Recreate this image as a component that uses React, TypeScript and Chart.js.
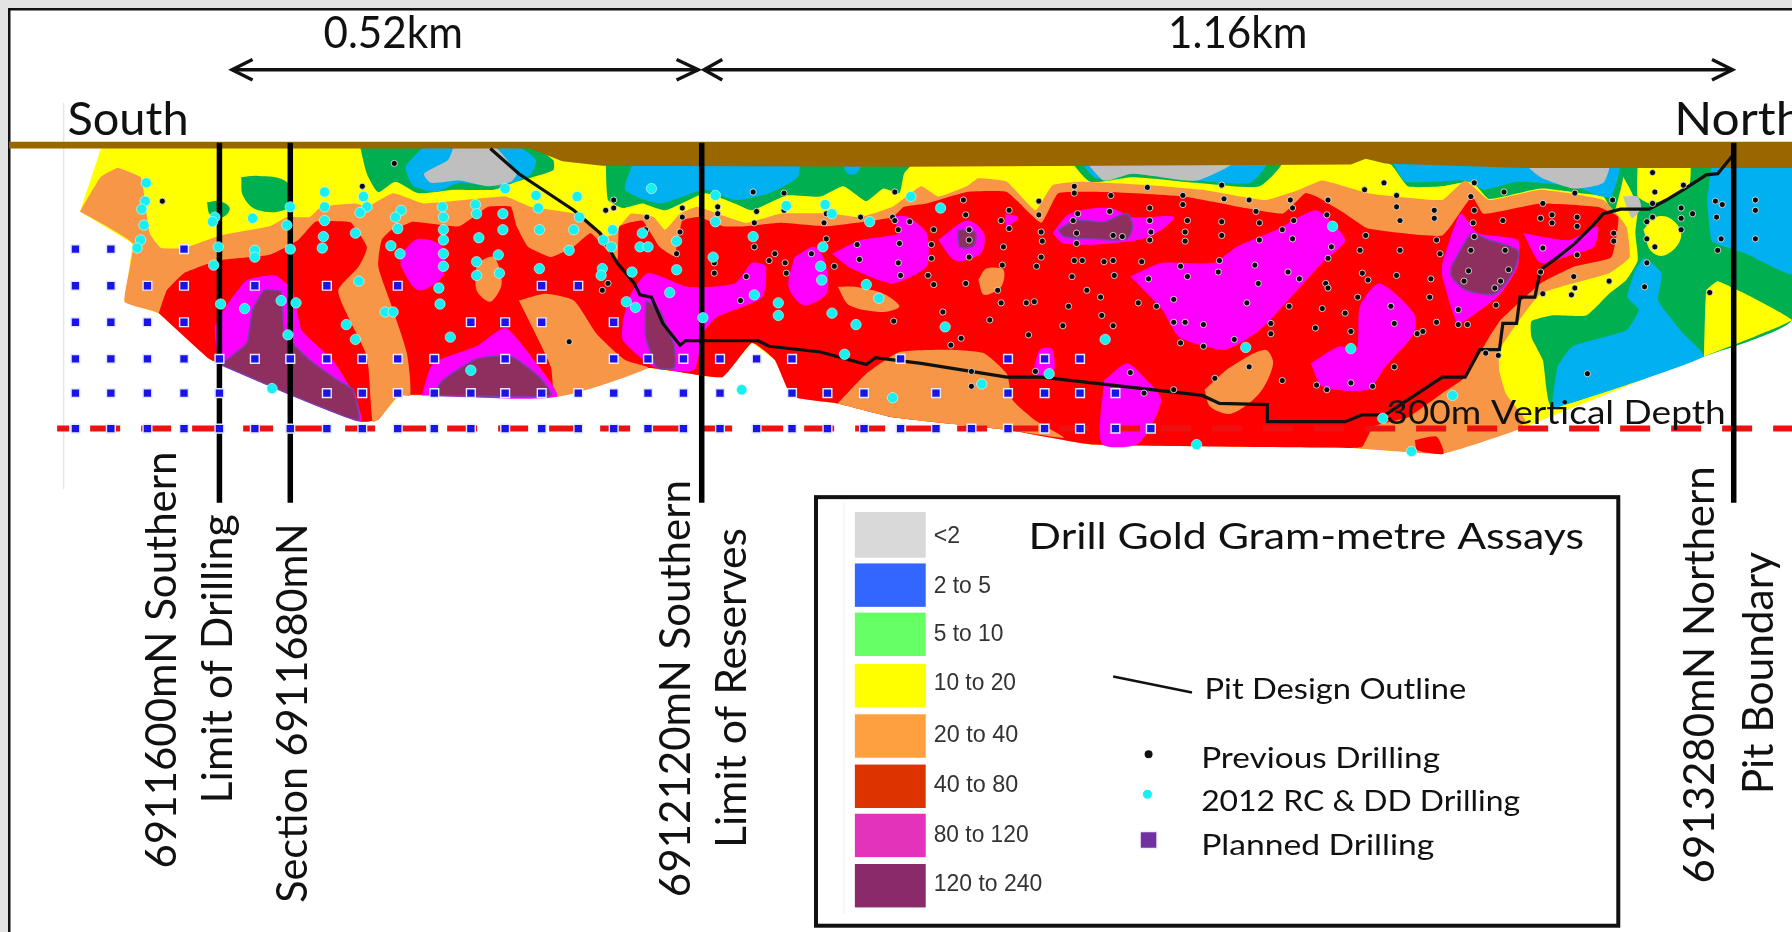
import React, { useEffect, useRef } from "react";
import { Chart, registerables } from "chart.js";

Chart.register(...registerables);

type P = [number, number];

const footprintBase: P[] = [[89,128],[1568,128],[1568,280],[1328,376],[1262,397],[1182,392],[956,389],[881,376],[781,365],[733,353],[693,347],[678,315],[658,300],[632,330],[567,322],[487,347],[349,346],[331,367],[316,369],[251,344],[193,319],[183,314],[139,274],[109,264],[116,213],[70,185]];
const greenLeft: P[] = [[315,128],[321,152],[331,168],[346,159],[366,169],[397,166],[432,166],[452,159],[484,149],[484,140],[464,128]];
const blueLeft: P[] = [[371,128],[355,146],[361,162],[381,168],[402,160],[437,163],[464,153],[469,140],[452,128]];
const grayLeft: P[] = [[397,128],[392,140],[371,152],[377,160],[402,158],[427,163],[447,159],[452,152],[432,128]];
const greenBlobA: P[] = [[211,155],[226,154],[249,158],[256,172],[251,183],[226,184],[213,172]];
const greenBlobB: P[] = [[181,177],[192,176],[201,182],[195,190],[184,188]];
const greenMidA: P[] = [[530,140],[532,175],[545,182],[562,178],[582,184],[617,169],[643,178],[658,184],[688,171],[718,172],[738,163],[758,176],[773,165],[787,169],[791,152],[800,140]];
const blueMidA: P[] = [[555,140],[547,166],[577,178],[617,166],[643,175],[673,169],[698,155],[698,140]];
const blueDot: P[] = [[737,144],[753,144],[749,152],[742,152]];
const greenMidB: P[] = [[936,140],[954,159],[991,155],[1047,160],[1102,163],[1122,140]];
const blueMidB: P[] = [[944,140],[959,156],[991,152],[1047,158],[1094,160],[1109,140]];
const grayMidB: P[] = [[949,140],[966,158],[991,152],[1047,158],[1082,140]];
const greenRightTop: P[] = [[1192,136],[1217,144],[1232,163],[1262,163],[1288,159],[1303,174],[1348,165],[1383,169],[1403,172],[1412,187],[1420,140]];
const blueRightTop: P[] = [[1217,140],[1230,159],[1283,158],[1298,166],[1328,159],[1378,163],[1398,171],[1410,172],[1417,140]];
const grayRightTop: P[] = [[1330,140],[1348,155],[1378,165],[1403,160],[1408,140]];
const greenRight: P[] = [[1412,140],[1425,163],[1433,181],[1431,204],[1433,228],[1423,245],[1408,257],[1388,276],[1358,276],[1340,281],[1340,295],[1350,315],[1358,356],[1491,312],[1568,280],[1568,140]];
const blueRightLow: P[] = [[1358,353],[1363,321],[1376,303],[1423,289],[1434,271],[1424,260],[1431,236],[1439,226],[1454,239],[1451,263],[1473,292],[1491,312],[1358,358]];
const blueRightHigh: P[] = [[1498,140],[1568,140],[1568,240],[1528,222],[1498,211],[1494,175]];
const yellowTopRight: P[] = [[1433,140],[1433,172],[1443,178],[1458,175],[1478,163],[1478,140]];
const yellowBlobRight: P[] = [[1438,201],[1448,190],[1463,192],[1471,207],[1458,223],[1445,220]];
const yellowLowRight: P[] = [[1491,312],[1493,254],[1503,246],[1533,260],[1568,280]];
const graySmall: P[] = [[1420,172],[1433,172],[1436,182],[1428,191]];
const orangeMain: P[] = [[70,185],[88,155],[103,147],[123,155],[125,163],[131,204],[141,217],[161,217],[193,206],[236,198],[251,190],[271,190],[281,181],[311,178],[321,181],[344,169],[371,178],[442,172],[464,181],[502,187],[532,207],[540,201],[552,187],[572,190],[582,201],[595,187],[610,181],[628,187],[653,195],[683,187],[728,187],[753,190],[781,181],[806,163],[821,172],[846,163],[856,156],[881,159],[906,184],[921,162],[946,159],[1006,162],[1052,166],[1107,175],[1137,166],[1157,158],[1197,169],[1262,175],[1282,158],[1303,175],[1348,166],[1403,175],[1423,198],[1426,225],[1408,239],[1348,257],[1312,306],[1312,325],[1318,345],[1335,368],[1328,376],[1262,397],[1182,392],[956,389],[881,376],[781,365],[733,353],[693,347],[678,315],[658,300],[632,330],[567,322],[487,347],[349,346],[331,367],[316,369],[251,344],[193,319],[183,314],[139,274],[109,264],[116,213]];
const redMain: P[] = [[139,274],[146,254],[161,239],[191,228],[236,223],[261,210],[276,194],[304,194],[344,201],[361,194],[402,198],[427,181],[447,181],[452,198],[462,216],[482,225],[502,216],[517,204],[540,228],[542,198],[562,193],[577,216],[590,224],[597,193],[612,190],[633,198],[653,198],[683,195],[723,198],[781,190],[791,181],[811,178],[846,168],[881,168],[911,195],[926,169],[971,168],[1036,172],[1122,187],[1142,169],[1152,172],[1177,187],[1197,200],[1262,206],[1288,172],[1298,187],[1348,178],[1398,181],[1416,190],[1410,225],[1378,233],[1348,248],[1313,280],[1303,295],[1282,330],[1262,344],[1232,365],[1202,373],[1192,391],[1182,392],[956,389],[881,376],[781,365],[733,353],[693,347],[678,315],[658,300],[632,330],[567,322],[487,347],[349,346],[331,367],[316,369],[251,344],[193,319],[183,314]];
const orangeBand: P[] = [[304,190],[321,216],[314,233],[296,254],[306,280],[321,312],[326,369],[331,367],[349,346],[359,346],[356,309],[341,263],[331,233],[334,210],[344,198]];
const orangePatchA: P[] = [[454,263],[477,257],[502,263],[522,292],[547,315],[567,322],[487,347],[482,321],[467,289]];
const orangePatchB: P[] = [[417,230],[432,225],[439,248],[429,264],[417,254]];
const orangePatchC: P[] = [[733,251],[748,251],[773,257],[787,268],[773,273],[743,267]];
const orangePatchD: P[] = [[856,245],[863,235],[878,236],[876,251],[861,258]];
const orangePatchE: P[] = [[733,353],[758,327],[787,308],[831,306],[861,309],[881,327],[886,350],[906,368],[931,383],[881,376],[781,365]];
const orangePatchF: P[] = [[1054,341],[1077,321],[1107,306],[1114,318],[1102,344],[1077,362],[1059,356]];
const redSmall: P[] = [[1238,385],[1257,382],[1263,397],[1240,394]];
const magentaA: P[] = [[191,318],[188,286],[198,268],[216,245],[241,241],[256,254],[264,289],[291,315],[311,347],[316,369],[251,344]];
const magentaB: P[] = [[351,222],[366,209],[387,216],[387,242],[366,254],[351,233]];
const magentaC: P[] = [[369,346],[379,318],[417,303],[442,287],[467,315],[487,347]];
const magentaD: P[] = [[545,280],[552,257],[567,239],[602,251],[643,248],[658,230],[670,233],[667,260],[628,277],[615,292],[607,324],[572,321],[545,298]];
const magentaE: P[] = [[695,225],[713,216],[723,233],[723,257],[703,267],[690,251]];
const magentaF: P[] = [[728,222],[753,210],[787,204],[781,190],[795,190],[811,204],[811,233],[781,248],[745,235]];
const magentaG: P[] = [[821,210],[846,193],[861,204],[858,222],[836,228]];
const magentaH: P[] = [[879,187],[891,190],[881,198]];
const magentaI: P[] = [[921,204],[936,187],[971,182],[991,190],[1027,190],[1006,207],[971,213],[931,213]];
const magentaJ: P[] = [[989,242],[1017,230],[1062,230],[1082,216],[1117,201],[1152,184],[1177,210],[1157,230],[1127,263],[1102,289],[1072,306],[1032,295],[1017,271],[1001,254]];
const magentaK: P[] = [[966,333],[986,318],[1001,330],[1016,350],[996,388],[964,388]];
const magentaL: P[] = [[904,325],[910,306],[921,306],[921,330],[908,330]];
const magentaM: P[] = [[1147,318],[1172,303],[1187,306],[1190,268],[1207,248],[1237,274],[1237,292],[1212,321],[1197,341],[1157,338]];
const magentaN: P[] = [[1262,230],[1278,187],[1293,204],[1328,210],[1328,233],[1313,257],[1283,280],[1275,283],[1262,242]];
const magentaO: P[] = [[1333,204],[1373,210],[1398,198],[1395,216],[1378,222],[1348,230]];
const purpleA: P[] = [[193,319],[216,300],[221,271],[231,254],[246,255],[249,292],[271,315],[296,333],[309,341],[314,368],[251,344]];
const purpleC: P[] = [[379,346],[387,333],[417,314],[447,312],[472,330],[482,346]];
const purpleD: P[] = [[565,263],[577,271],[590,303],[590,322],[575,322],[565,295]];
const purpleG: P[] = [[838,201],[853,203],[852,215],[840,216]];
const purpleI: P[] = [[926,201],[941,193],[966,194],[986,187],[991,198],[986,209],[956,209],[931,207]];
const purpleN: P[] = [[1270,233],[1283,210],[1288,204],[1303,210],[1328,219],[1325,236],[1308,257],[1283,254],[1270,242]];
const surfaceBand: P[] = [[8,124],[1568,124],[1568,147],[1333,147],[1212,143],[1195,139],[1182,144],[787,146],[527,145],[492,141],[464,130],[8,130]];
const pitOutline: P[] = [[429,130],[454,152],[502,184],[525,204],[540,230],[555,248],[560,258],[570,260],[580,283],[595,302],[600,298],[663,298],[673,303],[718,308],[758,319],[766,313],[806,318],[881,330],[911,330],[1052,346],[1067,353],[1109,354],[1109,369],[1177,369],[1192,363],[1212,363],[1262,330],[1282,330],[1295,306],[1312,306],[1315,283],[1327,283],[1330,260],[1343,260],[1348,236],[1363,225],[1378,213],[1393,198],[1403,187],[1418,183],[1443,183],[1458,175],[1473,166],[1493,153],[1503,152],[1516,136]];
const sectionLines: number[] = [192, 254, 614, 1517];
const sectionTop = 125;
const sectionBottom = 440;
const depthLine = 375;
const depthLineRange: P = [50, 1568];

const plannedRows: [number, number[]][] = [
  [218, [66, 97, 161]],
  [250, [66, 97, 129, 161, 223, 286, 348, 474, 506]],
  [282, [66, 97, 129, 161, 412, 442, 474, 537]],
  [314, [66, 97, 129, 161, 192, 223, 254, 286, 317, 348, 380, 442, 474, 537, 567, 598, 630, 662, 693, 788, 882, 914, 945]],
  [344, [66, 97, 129, 161, 192, 286, 317, 348, 380, 412, 442, 474, 506, 537, 567, 598, 630, 693, 724, 756, 819, 882, 914, 945, 976]],
  [375, [66, 97, 129, 161, 192, 223, 254, 286, 317, 348, 380, 412, 442, 474, 506, 537, 567, 598, 630, 662, 693, 724, 756, 788, 819, 850, 882, 914, 945, 976, 1007]],
];
const drilling2012: P[] = [[128,160],[127,176],[124,183],[126,197],[123,210],[120,217],[188,190],[186,194],[191,216],[187,232],[193,266],[221,191],[223,219],[223,225],[214,270],[238,340],[254,181],[251,197],[254,218],[246,263],[259,265],[252,293],[284,168],[284,181],[284,193],[283,207],[282,217],[318,172],[321,181],[315,186],[311,204],[314,246],[303,284],[311,297],[351,184],[346,190],[348,200],[342,215],[350,222],[337,273],[344,273],[387,181],[388,190],[388,201],[388,210],[388,222],[388,233],[384,252],[385,266],[394,295],[412,324],[416,179],[417,187],[419,208],[417,229],[417,241],[442,165],[440,187],[440,201],[436,223],[437,239],[469,171],[471,182],[472,201],[472,235],[505,172],[507,190],[502,201],[498,219],[527,235],[526,241],[536,201],[528,210],[535,216],[553,238],[548,264],[556,269],[570,165],[560,216],[567,216],[562,204],[592,211],[592,236],[586,256],[626,171],[626,194],[624,225],[615,278],[659,207],[660,258],[649,341],[688,180],[681,265],[681,276],[722,179],[728,187],[720,216],[718,233],[719,245],[728,274],[749,284],[739,310],[761,194],[758,249],[769,261],[781,348],[797,172],[823,182],[827,286],[859,336],[967,297],[918,327],[1166,198],[1090,304],[1182,305],[1047,389],[1210,366],[1271,346],[1235,395]];
const drillingPrevious: P[] = [[142,176],[345,143],[317,163],[537,175],[537,182],[530,184],[566,190],[565,201],[597,182],[597,190],[595,203],[592,222],[628,181],[628,187],[625,230],[625,239],[659,168],[662,185],[660,195],[660,216],[678,222],[673,228],[687,230],[688,239],[686,169],[686,184],[653,242],[648,263],[710,222],[730,233],[723,187],[721,195],[723,209],[753,190],[750,214],[752,227],[783,168],[781,190],[786,230],[782,281],[532,248],[527,254],[498,299],[783,193],[786,201],[796,194],[787,213],[788,241],[812,241],[815,214],[815,226],[817,201],[817,249],[843,175],[845,188],[845,248],[825,273],[841,296],[832,302],[848,201],[848,210],[848,225],[866,280],[876,193],[883,184],[883,200],[878,216],[877,232],[873,254],[876,265],[898,265],[905,264],[900,293],[909,176],[909,188],[911,203],[912,211],[911,225],[907,233],[938,242],[951,254],[963,260],[935,268],[964,276],[930,285],[974,285],[940,163],[940,169],[972,171],[943,187],[939,193],[942,204],[942,213],[971,185],[974,206],[982,207],[940,228],[947,228],[966,229],[974,228],[975,241],[996,265],[1004,164],[1006,182],[1006,193],[1007,203],[1006,210],[999,229],[1005,244],[1012,268],[1027,262],[1035,171],[1035,179],[1039,193],[1037,203],[1037,211],[1033,233],[1039,242],[1027,282],[1037,282],[1053,284],[1033,300],[1053,303],[1069,162],[1071,174],[1069,194],[1069,206],[1067,228],[1066,238],[1080,297],[1093,175],[1099,185],[1102,195],[1102,210],[1098,232],[1101,248],[1091,265],[1112,283],[1112,292],[1129,175],[1131,182],[1132,193],[1122,201],[1131,209],[1127,238],[1137,244],[1128,268],[1157,270],[1151,287],[1162,175],[1161,188],[1162,226],[1165,216],[1160,248],[1162,252],[1177,274],[1182,290],[1195,206],[1190,219],[1192,239],[1197,245],[1188,260],[1217,268],[1220,283],[1222,241],[1225,219],[1194,166],[1211,160],[1222,171],[1222,181],[1225,193],[1255,184],[1255,191],[1257,210],[1260,222],[1252,244],[1251,260],[1257,282],[1245,290],[1240,292],[1220,321],[1201,338],[1182,335],[1161,341],[1152,337],[1122,333],[1093,321],[1063,331],[1027,341],[1001,344],[989,326],[906,325],[850,338],[850,325],[1290,160],[1287,172],[1290,184],[1289,195],[1290,207],[1287,219],[1317,219],[1285,237],[1281,246],[1320,236],[1313,246],[1308,252],[1309,267],[1276,271],[1276,284],[1284,284],[1300,309],[1311,311],[1316,168],[1315,193],[1350,178],[1348,191],[1358,188],[1358,195],[1380,190],[1380,198],[1350,217],[1380,223],[1348,238],[1350,257],[1377,242],[1378,252],[1375,258],[1408,246],[1412,204],[1412,211],[1378,169],[1411,175],[1446,151],[1473,162],[1448,168],[1446,178],[1446,190],[1441,194],[1441,209],[1448,216],[1471,182],[1481,187],[1471,191],[1471,201],[1501,176],[1507,179],[1502,190],[1506,209],[1503,219],[1536,175],[1536,184],[1536,209],[1441,230],[1439,251],[1496,256],[1389,327]];

const arrowShort: P[] = [[203,61],[611,61]];
const arrowLong: P[] = [[616,61],[1516,61]];
const arrowHeads: P[][] = [
  [[221,52],[203,61],[221,70]],
  [[592,52],[611,61],[592,70]],
  [[632,52],[616,61],[632,70]],
  [[1498,52],[1516,61],[1498,70]],
];

const legendLabels = ["<2", "2 to 5", "5 to 10", "10 to 20", "20 to 40", "40 to 80", "80 to 120", "120 to 240"];
const legendColors = ["#d9d9d9", "#3366ff", "#66ff66", "#ffff00", "#ffa040", "#dd3300", "#e333bb", "#8b2a6b"];
const legendTops = [448, 493, 536, 581, 625, 669, 712, 756];
const legendBottoms = [488, 531, 574, 619, 663, 707, 750, 794];
const legendBaselines = [475, 519, 561, 604, 649, 693, 737, 780];
const legendLabelEnds = [840, 867, 878, 889, 891, 891, 900, 912];

const C = {
  yellow: "#ffff00", green: "#00b050", blue: "#00b0f0", gray: "#bfbfbf",
  orange: "#f79646", red: "#ff0000", magenta: "#ff00ff", purple: "#8f2f60",
  brown: "#996600", edge: "#7a3fb0",
};

type Layer = [P[], string, number, string?];
const layers: Layer[] = [
  [footprintBase, C.yellow, 0],
  [greenLeft, C.green, 0.2], [blueLeft, C.blue, 0.2], [grayLeft, C.gray, 0.2],
  [greenBlobA, C.green, 0.4], [greenBlobB, C.green, 0.4],
  [greenMidA, C.green, 0.15], [blueMidA, C.blue, 0.2], [blueDot, C.blue, 0.3],
  [greenMidB, C.green, 0.2], [blueMidB, C.blue, 0.2], [grayMidB, C.gray, 0.2],
  [greenRight, C.green, 0.15], [blueRightLow, C.blue, 0.15], [blueRightHigh, C.blue, 0.1],
  [yellowTopRight, C.yellow, 0.15], [yellowBlobRight, C.yellow, 0.4], [yellowLowRight, C.yellow, 0.1],
  [greenRightTop, C.green, 0.15], [blueRightTop, C.blue, 0.15], [grayRightTop, C.gray, 0.2], [graySmall, C.gray, 0.2],
  [orangeMain, C.orange, 0.12],
  [redMain, C.red, 0.12],
  [orangeBand, C.orange, 0.2], [orangePatchA, C.orange, 0.2], [orangePatchB, C.orange, 0.3],
  [orangePatchC, C.orange, 0.3], [orangePatchD, C.orange, 0.3], [orangePatchE, C.orange, 0.15], [orangePatchF, C.orange, 0.3],
  [redSmall, C.red, 0.2],
  [magentaA, C.magenta, 0.15], [magentaB, C.magenta, 0.3], [magentaC, C.magenta, 0.2], [magentaD, C.magenta, 0.2],
  [magentaE, C.magenta, 0.3], [magentaF, C.magenta, 0.2], [magentaG, C.magenta, 0.3], [magentaH, C.magenta, 0.3],
  [magentaI, C.magenta, 0.3], [magentaJ, C.magenta, 0.2], [magentaK, C.magenta, 0.25], [magentaL, C.magenta, 0.3],
  [magentaM, C.magenta, 0.25], [magentaN, C.magenta, 0.2], [magentaO, C.magenta, 0.2],
  [purpleA, C.purple, 0.12, C.edge], [purpleC, C.purple, 0.2, C.edge], [purpleD, C.purple, 0.15, C.edge],
  [purpleG, C.purple, 0.3, C.edge], [purpleI, C.purple, 0.3, C.edge], [purpleN, C.purple, 0.25, C.edge],
];

const pts = (a: P[]) => a.map(([x, y]) => ({ x, y }));

type TextItem = { t: string; x0: number; x1: number; y: number; font: string; rot?: boolean; color?: string };
const LATO = "Lato";
const mainTexts: TextItem[] = [
  { t: "0.52km", x0: 283, x1: 405, y: 42, font: `44px ${LATO}` },
  { t: "1.16km", x0: 1022, x1: 1144, y: 42, font: `44px ${LATO}` },
  { t: "South", x0: 59, x1: 165, y: 118, font: `46px ${LATO}` },
  { t: "North", x0: 1465, x1: 1578, y: 118, font: `46px ${LATO}` },
  { t: "300m Vertical Depth", x0: 1213, x1: 1510, y: 371, font: `33px ${LATO}` },
  { t: "Drill Gold Gram-metre Assays", x0: 900, x1: 1386, y: 480, font: `37px ${LATO}` },
  { t: "Pit Design Outline", x0: 1054, x1: 1283, y: 612, font: `29px ${LATO}` },
  { t: "Previous Drilling", x0: 1051, x1: 1260, y: 672, font: `29px ${LATO}` },
  { t: "2012 RC & DD Drilling", x0: 1051, x1: 1330, y: 710, font: `29px ${LATO}` },
  { t: "Planned Drilling", x0: 1051, x1: 1255, y: 748, font: `29px ${LATO}` },
  // rotated: x0/x1 run along the page's y, y is the baseline's x
  { t: "6911600mN Southern", x0: 760, x1: 395, y: 154, font: `42px ${LATO}`, rot: true },
  { t: "Limit of Drilling", x0: 703, x1: 450, y: 203, font: `42px ${LATO}`, rot: true },
  { t: "Section 6911680mN", x0: 790, x1: 458, y: 269, font: `42px ${LATO}`, rot: true },
  { t: "6912120mN Southern", x0: 785, x1: 420, y: 604, font: `42px ${LATO}`, rot: true },
  { t: "Limit of Reserves", x0: 742, x1: 462, y: 653, font: `42px ${LATO}`, rot: true },
  { t: "6913280mN Northern", x0: 773, x1: 408, y: 1500, font: `42px ${LATO}`, rot: true },
  { t: "Pit Boundary", x0: 695, x1: 483, y: 1551, font: `42px ${LATO}`, rot: true },
];

const sectionPlugin = {
  id: "sectionPage",
  beforeDraw(chart: any) {
    const { ctx, scales } = chart;
    const X = (v: number) => scales.x.getPixelForValue(v);
    const Y = (v: number) => scales.y.getPixelForValue(v);
    ctx.save();
    ctx.fillStyle = "#e3e3e3";
    ctx.fillRect(0, 0, chart.width, chart.height);
    ctx.fillStyle = "#ffffff";
    ctx.fillRect(9, 9, chart.width, chart.height);
    ctx.fillStyle = "#111111";
    ctx.fillRect(8, 8, chart.width, 2.5);
    ctx.fillRect(8, 8, 2.5, chart.height);
    ctx.fillStyle = "#e6e6e6";
    ctx.fillRect(X(55), Y(90), 1.5, Y(428) - Y(90));
    ctx.restore();
  },
  afterDraw(chart: any) {
    const { ctx, scales } = chart;
    const X = (v: number) => scales.x.getPixelForValue(v);
    const Y = (v: number) => scales.y.getPixelForValue(v);
    ctx.save();
    const draw = (it: TextItem) => {
      ctx.save();
      ctx.font = it.font;
      ctx.fillStyle = it.color || "#111111";
      ctx.textBaseline = "alphabetic";
      ctx.textAlign = "left";
      const w = ctx.measureText(it.t).width;
      if (it.rot) {
        const span = Y(it.x0) - Y(it.x1);
        ctx.translate(X(it.y), Y(it.x0));
        ctx.rotate(-Math.PI / 2);
        ctx.scale(span / w, 1);
      } else {
        const span = X(it.x1) - X(it.x0);
        ctx.translate(X(it.x0), Y(it.y));
        ctx.scale(span / w, 1);
      }
      ctx.fillText(it.t, 0, 0);
      ctx.restore();
    };
    // legend box
    ctx.strokeStyle = "#111111";
    ctx.lineWidth = 4;
    ctx.strokeRect(X(714), Y(435), X(1416) - X(714), Y(810) - Y(435));
    ctx.fillStyle = "#eeeeee";
    ctx.fillRect(X(738), Y(440), 1, Y(800) - Y(440));
    legendLabels.forEach((lab, i) => {
      ctx.fillStyle = legendColors[i];
      ctx.fillRect(X(748), Y(legendTops[i]), X(810) - X(748), Y(legendBottoms[i]) - Y(legendTops[i]));
      draw({ t: lab, x0: 817, x1: legendLabelEnds[i], y: legendBaselines[i], font: "24px 'Liberation Sans'", color: "#333333" });
    });
    mainTexts.forEach(draw);
    ctx.restore();
  },
};

export default function App() {
  const ref = useRef<HTMLCanvasElement | null>(null);
  useEffect(() => {
    if (!ref.current) return;
    const n = { v: 0 };
    const next = () => --n.v;
    const area: any[] = layers.map(([points, color, tension, edge]) => ({
      data: pts(points.concat([points[0]])),
      backgroundColor: color,
      borderColor: edge || color,
      borderWidth: edge ? 1.5 : 0,
      fill: "shape",
      tension,
      pointRadius: 0,
      order: next(),
    }));
    const stroke = (p: P[], color: string, width: number, dash?: number[], dashOffset?: number) => ({
      data: pts(p),
      borderColor: color,
      backgroundColor: color,
      borderWidth: width,
      borderDash: dash,
      borderDashOffset: dashOffset || 0,
      fill: false,
      tension: 0,
      pointRadius: 0,
      order: next(),
    });
    const dots = (p: P[], color: string, edge: string, radius: number, style: string, edgeW: number) => ({
      data: pts(p),
      showLine: false,
      pointStyle: style,
      pointRadius: radius,
      pointBackgroundColor: color,
      pointBorderColor: edge,
      pointBorderWidth: edgeW,
      order: next(),
    });
    const planned: P[] = plannedRows.flatMap(([y, xs]) => xs.map((x) => [x, y] as P));
    const datasets: any[] = [
      ...area,
      stroke(surfaceBand.concat([surfaceBand[0]]), C.brown, 0),
    ];
    const band = datasets[datasets.length - 1];
    band.fill = "shape";
    datasets.push(
      stroke([[depthLineRange[0], depthLine], [depthLineRange[1], depthLine]], "#ee1111", 6, [30, 21], 18),
      stroke(pitOutline, "#111111", 3.2),
      ...sectionLines.map((x) => stroke([[x, sectionTop], [x, sectionBottom]], "#000000", 5.5)),
      stroke(arrowShort, "#111111", 3.4),
      stroke(arrowLong, "#111111", 3.4),
      ...arrowHeads.map((h) => stroke(h, "#111111", 3.4)),
      stroke([[974, 592], [1043, 606]], "#111111", 2.5),
      dots(planned, "#1a14e6", "#e4eaff", 6.2, "rect", 1.4),
      dots(drillingPrevious, "#0a0a0a", "#f4f4f4", 3.1, "circle", 0.8),
      dots(drilling2012, "#19eef0", "#d8ffff", 5.2, "circle", 0.6),
      dots([[1005, 660]], "#111111", "#ffffff", 4.6, "circle", 1.2),
      dots([[1004, 695]], "#19eef0", "#ffffff", 5, "circle", 1),
      dots([[1005, 735]], "#7030a0", "#f0f0ff", 12, "rect", 1.5),
    );
    const chart = new Chart(ref.current, {
      type: "line",
      data: { datasets },
      options: {
        animation: false,
        responsive: false,
        devicePixelRatio: 1,
        layout: { padding: 0, autoPadding: false },
        events: [],
        scales: {
          x: { type: "linear", min: 0, max: 1568, display: false },
          y: { type: "linear", min: 0, max: 815.5, reverse: true, display: false },
        },
        plugins: { legend: { display: false }, tooltip: { enabled: false } },
      },
      plugins: [sectionPlugin],
    } as any);
    return () => chart.destroy();
  }, []);
  return (
    <div style={{ position: "fixed", left: 0, top: 0, width: 1792, height: 932, overflow: "hidden", background: "#fff" }}>
      <canvas ref={ref} width={1792} height={932} style={{ display: "block", width: 1792, height: 932, filter: "blur(0.6px)" }} />
    </div>
  );
}
